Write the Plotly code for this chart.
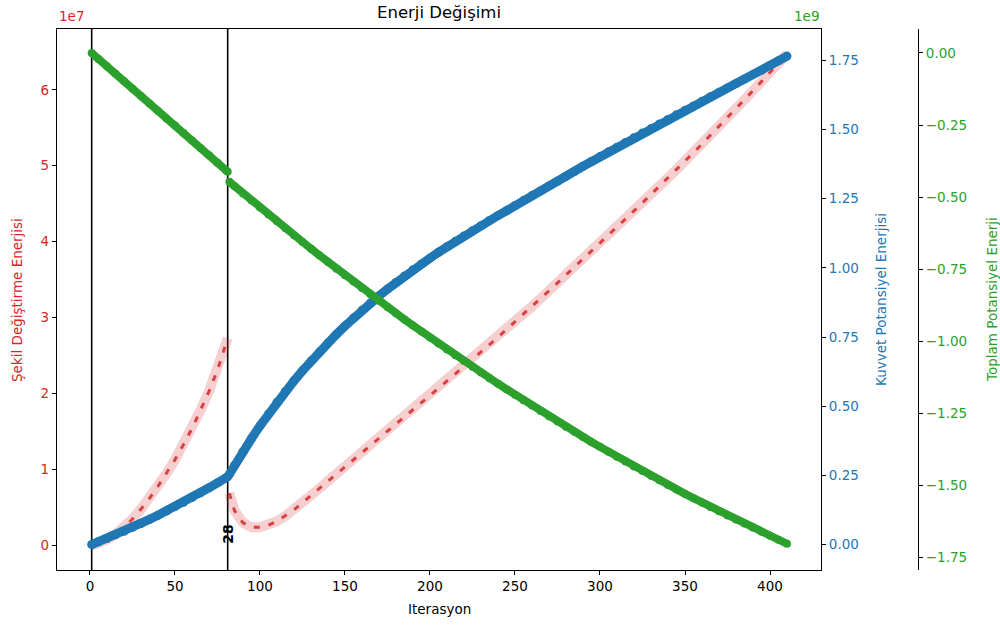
import plotly.graph_objects as go

# Iteration numbers for the two phases (split at the reset after iteration 81)
iter_a = [1, 5, 10, 15, 20, 25, 30, 35, 40, 45, 50, 55, 60, 65, 70, 75, 80, 81]
iter_b = [82] + list(range(85, 411, 5))

# Deformation energy (x1e7)
sekil_a = [0.00, 0.03, 0.08, 0.15, 0.24, 0.35, 0.48, 0.62, 0.78, 0.95, 1.13, 1.33,
           1.54, 1.78, 2.03, 2.31, 2.66, 2.73]
sekil_b = [0.69, 0.46, 0.30, 0.24, 0.24, 0.27, 0.32, 0.39, 0.47, 0.565, 0.66,
           0.754, 0.848, 0.942, 1.036, 1.130, 1.224, 1.318, 1.412, 1.506, 1.600,
           1.694, 1.788, 1.882, 1.976, 2.070, 2.164, 2.258, 2.353, 2.449, 2.546,
           2.644, 2.743, 2.843, 2.944, 3.046, 3.148, 3.251, 3.354, 3.457, 3.561,
           3.665, 3.769, 3.874, 3.979, 4.085, 4.191, 4.298, 4.405, 4.513, 4.621,
           4.730, 4.839, 4.949, 5.059, 5.172, 5.286, 5.401, 5.517, 5.634, 5.751,
           5.869, 5.988, 6.108, 6.228, 6.349, 6.470]

# Force potential energy (x1e9)
kuvvet_a = [0.000, 0.010, 0.022, 0.035, 0.048, 0.062, 0.076, 0.091, 0.106, 0.121,
            0.137, 0.153, 0.170, 0.187, 0.205, 0.223, 0.241, 0.245]
kuvvet_b = [0.254, 0.286, 0.336, 0.383, 0.429, 0.472, 0.514, 0.554, 0.592, 0.628,
            0.663, 0.696, 0.729, 0.760, 0.790, 0.819, 0.847, 0.873, 0.898, 0.923,
            0.947, 0.970, 0.993, 1.014, 1.035, 1.056, 1.076, 1.096, 1.115, 1.134,
            1.152, 1.171, 1.189, 1.206, 1.225, 1.243, 1.261, 1.278, 1.296, 1.313,
            1.331, 1.349, 1.367, 1.384, 1.402, 1.419, 1.436, 1.453, 1.470, 1.487,
            1.503, 1.520, 1.536, 1.553, 1.569, 1.585, 1.602, 1.618, 1.634, 1.650,
            1.666, 1.682, 1.698, 1.714, 1.731, 1.748, 1.765]

# Total potential energy (x1e9)
toplam_a = [0.000, -0.021, -0.046, -0.072, -0.098, -0.124, -0.149, -0.175, -0.201,
            -0.227, -0.252, -0.278, -0.304, -0.330, -0.355, -0.381, -0.407, -0.412]
toplam_b = [-0.447, -0.462, -0.487, -0.512, -0.536, -0.560, -0.584, -0.608, -0.632,
            -0.656, -0.679, -0.702, -0.725, -0.748, -0.771, -0.793, -0.815, -0.837,
            -0.859, -0.881, -0.903, -0.924, -0.945, -0.966, -0.987, -1.008, -1.028,
            -1.048, -1.068, -1.088, -1.108, -1.128, -1.147, -1.166, -1.185, -1.204,
            -1.223, -1.242, -1.260, -1.278, -1.296, -1.314, -1.332, -1.349, -1.366,
            -1.383, -1.400, -1.417, -1.434, -1.450, -1.466, -1.482, -1.498, -1.514,
            -1.529, -1.544, -1.559, -1.574, -1.589, -1.604, -1.618, -1.632, -1.646,
            -1.660, -1.674, -1.688, -1.702]

# Marked iterations
mark_iters = [1, 81]
mark_label = "28"

x_ticks = [0, 50, 100, 150, 200, 250, 300, 350, 400]
left_ticks = [0, 1, 2, 3, 4, 5, 6]
mid_ticks = [0.0, 0.25, 0.5, 0.75, 1.0, 1.25, 1.5, 1.75]
right_ticks = [0.0, -0.25, -0.5, -0.75, -1.0, -1.25, -1.5, -1.75]

RED = "#d62728"
BLUE = "#1f77b4"
GREEN = "#2ca02c"
FONT = "DejaVu Sans"

# pixel geometry helpers
W, H = 1000, 627
L, R, T, B = 57, 50, 29, 57
PW = W - L - R
PH = H - T - B
AX_RIGHT = 821
AX3_X = 918


def px(xpix):
    return (xpix - L) / PW


def py(ypix):
    return (H - B - ypix) / PH


fig = go.Figure()

for xs, ys in ((iter_a, sekil_a), (iter_b, sekil_b)):
    fig.add_trace(go.Scatter(x=xs, y=ys, mode="lines", yaxis="y",
                             line=dict(color="rgba(214,39,40,0.22)", width=10),
                             showlegend=False, hoverinfo="skip"))
    fig.add_trace(go.Scatter(x=xs, y=ys, mode="lines", yaxis="y",
                             line=dict(color="rgba(214,39,40,0.85)", width=3,
                                       dash="6px,9px"),
                             showlegend=False))

for xs, ys in ((iter_a, kuvvet_a), (iter_b, kuvvet_b)):
    fig.add_trace(go.Scatter(x=xs, y=ys, mode="lines+markers", yaxis="y2",
                             line=dict(color=BLUE, width=9),
                             marker=dict(color=BLUE, size=9),
                             showlegend=False))

for xs, ys in ((iter_a, toplam_a), (iter_b, toplam_b)):
    fig.add_trace(go.Scatter(x=xs, y=ys, mode="lines+markers", yaxis="y3",
                             line=dict(color=GREEN, width=8),
                             marker=dict(color=GREEN, size=8),
                             showlegend=False))

for it in mark_iters:
    fig.add_shape(type="line", xref="x", yref="paper", x0=it, x1=it, y0=0, y1=1,
                  line=dict(color="black", width=1.6), layer="below")

fig.add_annotation(x=mark_iters[1], y=0, xref="x", yref="y", text="<b>" + mark_label + "</b>",
                   textangle=-90, showarrow=False, xanchor="center", yanchor="bottom",
                   font=dict(family=FONT, size=14, color="black"))

x_end = px(AX_RIGHT)

fig.update_layout(
    width=W, height=H,
    margin=dict(l=L, r=R, t=T, b=B),
    paper_bgcolor="white", plot_bgcolor="white",
    font=dict(family=FONT, color="black"),
    xaxis=dict(domain=[0, x_end], range=[-19.4, 430.0], tickvals=x_ticks,
               ticks="outside", ticklen=4, tickcolor="black", showline=True,
               linecolor="black", linewidth=1.2, mirror=True, showgrid=False,
               zeroline=False, tickfont=dict(family=FONT, size=13.5, color="black")),
    yaxis=dict(range=[-0.322, 6.80], tickvals=left_ticks, ticks="outside",
               ticklen=4, tickcolor="black", showline=True, linecolor="black",
               linewidth=1.2, showgrid=False, zeroline=False,
               tickfont=dict(family=FONT, size=13.5, color=RED)),
    yaxis2=dict(range=[-0.092, 1.863], tickvals=mid_ticks,
                ticktext=["%.2f" % v for v in mid_ticks], overlaying="y",
                side="right", anchor="x", ticks="outside", ticklen=4,
                tickcolor="black", showline=True, linecolor="black", linewidth=1.2,
                showgrid=False, zeroline=False,
                tickfont=dict(family=FONT, size=13.5, color=BLUE)),
    yaxis3=dict(range=[-1.793, 0.083], tickvals=right_ticks,
                ticktext=[("%.2f" % v).replace("-", "\u2212") if v != 0 else "0.00"
                          for v in right_ticks],
                overlaying="y", side="right", anchor="free", position=px(AX3_X),
                ticks="outside", ticklen=4, tickcolor="black", showline=True,
                linecolor="black", linewidth=1.2, showgrid=False, zeroline=False,
                tickfont=dict(family=FONT, size=13.5, color=GREEN)),
    showlegend=False,
)

ann = [
    dict(text="Enerji Değişimi", x=px((L + AX_RIGHT) / 2), y=py(12),
         font=dict(family=FONT, size=16.5, color="black"), xanchor="center"),
    dict(text="Iterasyon", x=px((L + AX_RIGHT) / 2), y=py(609),
         font=dict(family=FONT, size=13.5, color="black"), xanchor="center"),
    dict(text="1e7", x=px(57), y=py(16), font=dict(family=FONT, size=13.5, color=RED),
         xanchor="left"),
    dict(text="1e9", x=px(AX_RIGHT), y=py(16),
         font=dict(family=FONT, size=13.5, color=GREEN), xanchor="right"),
    dict(text="Şekil Değiştirme Enerjisi", x=px(17), y=py(300), textangle=-90,
         font=dict(family=FONT, size=13.5, color=RED), xanchor="center"),
    dict(text="Kuvvet Potansiyel Enerjisi", x=px(881), y=py(300), textangle=-90,
         font=dict(family=FONT, size=13.5, color=BLUE), xanchor="center"),
    dict(text="Toplam Potansiyel Enerji", x=px(992), y=py(300), textangle=-90,
         font=dict(family=FONT, size=13.5, color=GREEN), xanchor="center"),
]
for a in ann:
    fig.add_annotation(xref="paper", yref="paper", showarrow=False,
                       yanchor="middle", **a)

fig.write_html("out.html")
